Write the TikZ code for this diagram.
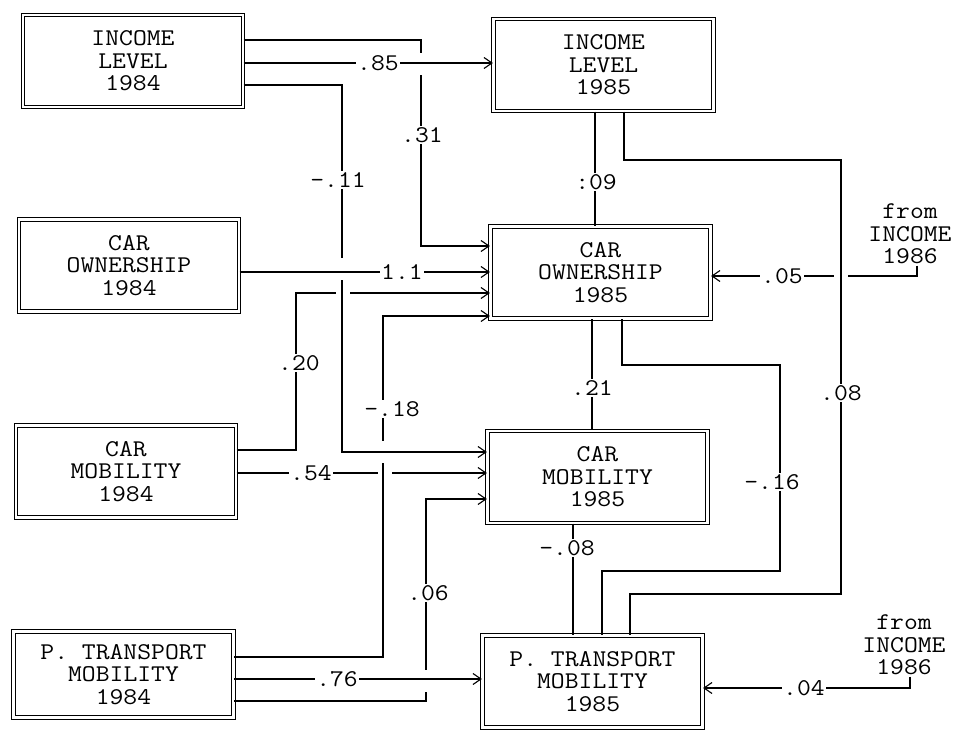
\documentclass[tikz,border=0pt]{standalone}
\usepackage{fontspec}
\newfontfamily\boxfont{Latin Modern Mono}[FakeStretch=1.12]
\usetikzlibrary{arrows.meta}
\tikzset{
  varbox/.style={draw,double,double distance=2.2pt,line width=1.1pt,minimum width=220pt,
    minimum height=92pt,align=center,inner sep=0pt,font=\boxfont\fontsize{24}{22.5}\selectfont},
  coef/.style={fill=white,inner sep=1.5pt,font=\boxfont\fontsize{24}{22.5}\selectfont},
  note/.style={align=center,inner sep=1pt,font=\boxfont\fontsize{24}{22.5}\selectfont},
  arr/.style={-{Straight Barb[length=8pt,width=11pt]}},
  vhop/.style={fill=white,inner sep=0pt,minimum width=5pt,minimum height=22pt},
  hhop/.style={fill=white,inner sep=0pt,minimum width=14pt,minimum height=5pt}
}
\begin{document}
\begin{tikzpicture}[x=1pt,y=-1pt,line width=1.1pt]
\useasboundingbox (0,0) rectangle (956,730);
% 1984 column
\node[varbox] (il84) at (133,61) {INCOME\\LEVEL\\1984};
\node[varbox] (co84) at (129,265.5) {CAR\\OWNERSHIP\\1984};
\node[varbox] (cm84) at (126,471.5) {CAR\\MOBILITY\\1984};
\node[varbox,minimum height=86pt] (pt84) at (123.5,674.5) {P. TRANSPORT\\MOBILITY\\1984};
% 1985 column
\node[varbox] (il85) at (603.5,65) {INCOME\\LEVEL\\1985};
\node[varbox] (co85) at (600.5,272.5) {CAR\\OWNERSHIP\\1985};
\node[varbox] (cm85) at (597.5,477) {CAR\\MOBILITY\\1985};
\node[varbox] (pt85) at (592.5,681.5) {P. TRANSPORT\\MOBILITY\\1985};
\node[note] (inc86a) at (910,234) {from\\INCOME\\1986};
\node[note] (inc86b) at (904,645) {from\\INCOME\\1986};
% bends
\coordinate (a31) at (421,40);  \coordinate (b31) at (421,246);
\coordinate (a11) at (342,85);  \coordinate (b11) at (342,452);
\coordinate (a20) at (296,450); \coordinate (b20) at (296,293);
\coordinate (a18) at (383,657); \coordinate (b18) at (383,316);
\coordinate (a06) at (426,701); \coordinate (b06) at (426,499);
\coordinate (r85) at (378,63);  \coordinate (r11) at (402,272);
\coordinate (r54) at (311,473); \coordinate (r76) at (337,679);
\coordinate (r05) at (782,276); \coordinate (r04) at (804,688);
\coordinate (v09) at (595,182); \coordinate (v21) at (592,388);
\coordinate (v08) at (573,548);
\coordinate (a08) at (624,160); \coordinate (b08) at (841,594); \coordinate (c08) at (630,594);
\coordinate (a16) at (622,365); \coordinate (b16) at (780,571); \coordinate (c16) at (602,571);
% lagged paths, under-lines first
\draw[arr] (il84.east |- a31) -- (a31) -- (b31) -- (co85.west |- b31);
\node[vhop] (g1) at (421,64) {};
\draw[arr] (il84.east |- r85) -- (il85.west |- r85);
\draw[arr] (cm84.east |- r54) -- (cm85.west |- r54);
\node[hhop] (g5) at (385,473) {};
\draw[arr] (pt84.east |- a18) -- (a18) -- (b18) -- (co85.west |- b18);
\node[vhop] (g4) at (383,452) {};
\draw[arr] (cm84.east |- a20) -- (a20) -- (b20) -- (co85.west |- b20);
\node[hhop] (g3) at (343,293) {};
\draw[arr] (il84.east |- a11) -- (a11) -- (b11) -- (cm85.west |- b11);
\node[vhop] (g2) at (342,269) {};
\draw[arr] (co84.east |- r11) -- (co85.west |- r11);
\draw[arr] (pt84.east |- a06) -- (a06) -- (b06) -- (cm85.west |- b06);
\node[vhop] (g6) at (426,681) {};
\draw[arr] (pt84.east |- r76) -- (pt85.west |- r76);
% contemporaneous links
\draw[arr] ([xshift=7pt]inc86a.south) |- (co85.east |- r05);
\node[hhop] (g7) at (841,276) {};
\draw[arr] ([xshift=6pt]inc86b.south) |- (pt85.east |- r04);
\draw (il85.south -| v09) -- (co85.north -| v09);
\draw (co85.south -| v21) -- (cm85.north -| v21);
\draw (cm85.south -| v08) -- (pt85.north -| v08);
\draw (il85.south -| a08) -- (a08) -| (b08) -- (c08) -- (c08 |- pt85.north);
\draw (co85.south -| a16) -- (a16) -| (b16) -- (c16) -- (c16 |- pt85.north);
% coefficients
\node[coef] (w85) at (378,63) {.85};
\node[coef] (w31) at (422,135) {.31};
\node[coef] (w11) at (338,180) {-.11};
\node[coef] (w1) at (402,272) {1.1};
\node[coef] (w20) at (299,363) {.20};
\node[coef] (w18) at (392,409) {-.18};
\node[coef] (w54) at (311,473) {.54};
\node[coef] (w06) at (428,593) {.06};
\node[coef] (w76) at (337,679) {.76};
\node[coef] (w09) at (596,182) {:09};
\node[coef] (w21) at (592,388) {.21};
\node[coef] (w08n) at (567,548) {-.08};
\node[coef] (w16) at (772,482) {-.16};
\node[coef] (w08) at (841,393) {.08};
\node[coef] (w05) at (782,276) {.05};
\node[coef] (w04) at (804,688) {.04};
\end{tikzpicture}
\end{document}
